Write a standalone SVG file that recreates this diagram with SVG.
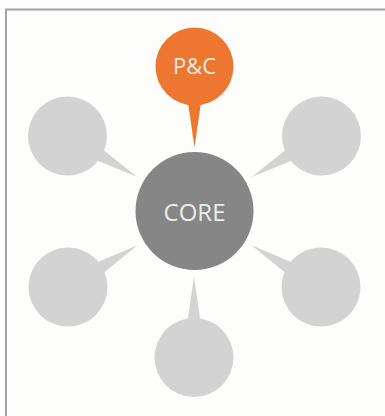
<svg xmlns="http://www.w3.org/2000/svg" width="385" height="416" viewBox="0 0 385 416">
<style>
.sat{fill:#d3d3d3}
.hub{fill:#858685}
.acc{fill:#ed7631}
.lbl{font-family:"Open Sans","Liberation Sans",sans-serif;text-anchor:middle;fill:#f3ece6}
</style>
<defs>
<path id="tail" d="M36,-6.5 L81,0 L36,6.5 Z"/>
</defs>
<rect x="0" y="0" width="385" height="416" fill="#fdfdfb"/>
<path d="M6,416 V9.5 H385" fill="none" stroke="#a2a2a8" stroke-width="2"/>
<g id="connectors">
<use href="#tail" class="acc" transform="translate(194.5,66.5) rotate(90)"/>
<use href="#tail" class="sat" transform="translate(67.5,136) rotate(30.5)"/>
<use href="#tail" class="sat" transform="translate(321.5,136) rotate(149.5)"/>
<use href="#tail" class="sat" transform="translate(68,287) rotate(-31)"/>
<use href="#tail" class="sat" transform="translate(321,287) rotate(-149)"/>
<use href="#tail" class="sat" transform="translate(194,357.5) rotate(-90)"/>
</g>
<g id="pc"><circle class="acc" cx="194.5" cy="66.5" r="39"/><text class="lbl" x="194.5" y="73.5" font-size="22">P&amp;C</text></g>
<g id="core"><circle class="hub" cx="194.5" cy="211" r="59"/><text class="lbl" x="194.5" y="220.5" font-size="24" style="fill:#ececec">CORE</text></g>
<g id="sat-tl"><circle class="sat" cx="67.5" cy="136" r="39.5"/></g>
<g id="sat-tr"><circle class="sat" cx="321.5" cy="136" r="39.5"/></g>
<g id="sat-bl"><circle class="sat" cx="68" cy="287" r="39.5"/></g>
<g id="sat-br"><circle class="sat" cx="321" cy="287" r="39.5"/></g>
<g id="sat-b"><circle class="sat" cx="194" cy="357.5" r="39.5"/></g>
</svg>
